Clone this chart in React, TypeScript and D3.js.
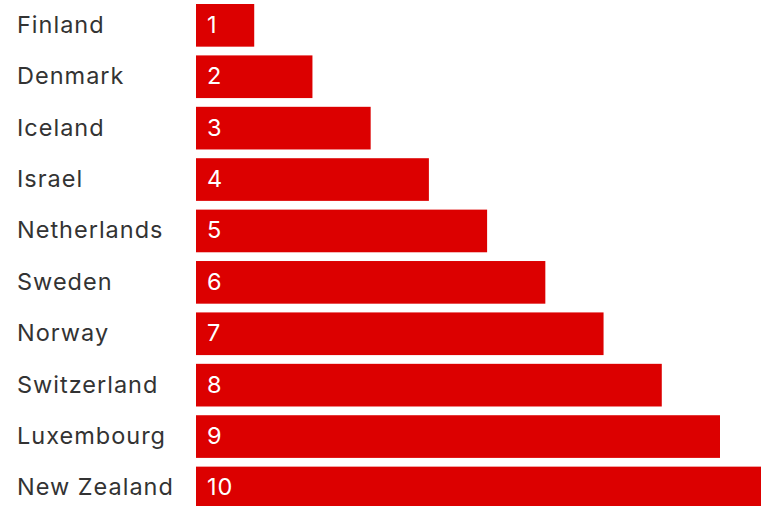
import React from "react";
import * as d3 from "d3";

const countries = ["Finland", "Denmark", "Iceland", "Israel", "Netherlands", "Sweden", "Norway", "Switzerland", "Luxembourg", "New Zealand"];
const ranks = [1, 2, 3, 4, 5, 6, 7, 8, 9, 10];

export default function App() {
  const W = 761, H = 506;
  const x = d3.scaleLinear().domain([0, 9]).range([196, 720]);
  const y = d3.scaleBand<string>().domain(countries).range([4, 509.3]).paddingInner(0.17).paddingOuter(0);
  const font = "Inter, Roboto, 'Noto Sans', sans-serif";
  return (
    <svg width={W} height={H} style={{ position: "absolute", left: 0, top: 0, background: "#fff" }}>
      {countries.map((c, i) => {
        const yy = y(c)!;
        const cy = yy + y.bandwidth() / 2;
        return (
          <g key={c}>
            <text x={17} y={cy} dy="0.32em" fontFamily={font} fontSize={23.5} letterSpacing={1} fill="#333">{c}</text>
            <rect x={x(0)} y={yy} width={x(ranks[i]) - x(0)} height={y.bandwidth()} fill="#dc0000" />
            <text x={x(0) + 11} y={cy} dy="0.32em" fontFamily={font} fontSize={23.5} letterSpacing={1} fill="#fff">{ranks[i]}</text>
          </g>
        );
      })}
    </svg>
  );
}
